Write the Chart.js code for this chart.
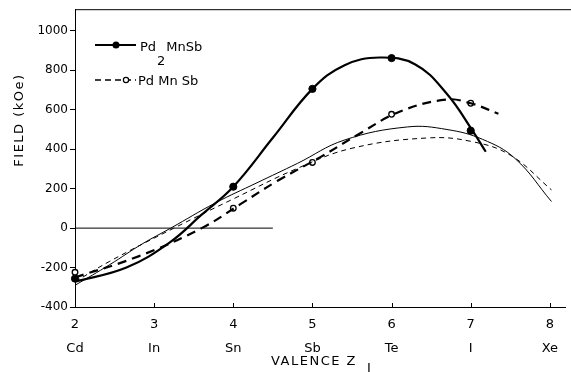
<!DOCTYPE html>
<html>
<head>
<meta charset="utf-8">
<script src="https://cdn.jsdelivr.net/npm/chart.js@4"></script>
<style>
  html, body { margin: 0; padding: 0; background: #fff; }
  #wrap { width: 571px; height: 372px; }
</style>
</head>
<body>
<div id="wrap"><canvas id="field_chart"></canvas></div>
<script>
// axis ticks
var valenceTicks = [2, 3, 4, 5, 6, 7, 8];
var elementLabels = ["Cd", "In", "Sn", "Sb", "Te", "I", "Xe"];
var fieldTicks = [-400, -200, 0, 200, 400, 600, 800, 1000];

// measured points
var pd2Valence = [2, 4, 5, 6, 7];
var pd2Field = [-256, 210, 706, 862, 494];
var pdValence = [2, 4, 5, 6, 7];
var pdField = [-224, 101, 333, 577, 633];

// drawn curves through the measured points
var pd2CurveX = [2, 2.65, 3.19, 3.6, 4, 4.5, 5, 5.4, 5.85, 6.3, 6.7, 7.02, 7.19];
var pd2CurveY = [-272, -200, -75, 68, 210, 458, 706, 825, 865, 830, 680, 496, 387];
var pdCurveX = [2, 2.81, 3.6, 4.1, 4.56, 5.1, 5.6, 6.1, 6.69, 7, 7.35];
var pdCurveY = [-250, -142, 0, 124, 240, 360, 480, 590, 652, 633, 580];

// calculated curves (thin lines)
var calcSolidX = [2, 2.44, 2.85, 3.21, 3.77, 4.3, 4.81, 5.4, 6.2, 6.7, 7.15, 7.56, 8.02];
var calcSolidY = [-290, -185, -80, 0, 127, 230, 328, 446, 513, 500, 450, 353, 135];
var calcDashX = [2, 2.44, 3.25, 4, 4.81, 5.5, 6.45, 7.0, 7.5, 8.02];
var calcDashY = [-272, -168, 0, 148, 303, 405, 457, 440, 370, 194];

var zeroLineX = [2, 4.5];

function pts(xs, ys) {
  return xs.map(function (x, i) { return { x: x, y: ys[i] }; });
}

Chart.defaults.font.family = "'DejaVu Sans', sans-serif";
Chart.defaults.color = "#000";

var extras = {
  id: "extras",
  afterDraw: function (chart) {
    var ctx = chart.ctx, a = chart.chartArea, xs = chart.scales.x;
    ctx.save();
    ctx.strokeStyle = "#000";
    ctx.fillStyle = "#000";
    ctx.lineWidth = 1;
    // top frame line
    ctx.beginPath();
    ctx.moveTo(a.left, a.top + 0.5);
    ctx.lineTo(chart.width, a.top + 0.5);
    ctx.stroke();
    // inward ticks on the valence axis
    valenceTicks.forEach(function (v) {
      var px = Math.round(xs.getPixelForValue(v)) + 0.5;
      ctx.beginPath();
      ctx.moveTo(px, a.bottom);
      ctx.lineTo(px, a.bottom - 4);
      ctx.stroke();
    });

    // legend
    ctx.lineWidth = 2;
    ctx.beginPath(); ctx.moveTo(95, 45); ctx.lineTo(136, 45); ctx.stroke();
    ctx.beginPath(); ctx.arc(116, 45, 3.5, 0, Math.PI * 2); ctx.fill();
    ctx.lineWidth = 1.6;
    ctx.setLineDash([6, 4]);
    ctx.beginPath(); ctx.moveTo(95, 80); ctx.lineTo(136, 80); ctx.stroke();
    ctx.setLineDash([]);
    ctx.lineWidth = 1.2;
    ctx.beginPath(); ctx.arc(126, 80, 2.6, 0, Math.PI * 2);
    ctx.fillStyle = "#fff"; ctx.fill(); ctx.stroke();
    ctx.fillStyle = "#000";

    ctx.font = "13px 'DejaVu Sans'";
    ctx.textBaseline = "alphabetic";
    ctx.textAlign = "left";
    ctx.fillText("Pd", 140, 51);
    var w = ctx.measureText("Pd").width;
    ctx.fillText("2", 140 + w + 1, 65);
    ctx.fillText("MnSb", 140 + w + 1 + ctx.measureText("2").width + 1, 51);
    ctx.fillText("Pd Mn Sb", 138, 85);

    // x axis title with subscript
    ctx.letterSpacing = "1.5px";
    ctx.fillText("VALENCE Z", 271, 365);
    ctx.fillText("I", 367, 372);

    // y axis title
    ctx.translate(23, 120);
    ctx.rotate(-Math.PI / 2);
    ctx.textAlign = "center";
    ctx.fillText("FIELD (kOe)", 0, 0);
    ctx.restore();
  }
};

new Chart("field_chart", {
  type: "line",
  data: {
    datasets: [
      {
        label: "calc solid",
        data: pts(calcSolidX, calcSolidY),
        borderColor: "#000",
        borderWidth: 1,
        pointRadius: 0,
        tension: 0.4,
      },
      {
        label: "calc dashed",
        data: pts(calcDashX, calcDashY),
        borderColor: "#000",
        borderWidth: 1,
        borderDash: [5, 4],
        pointRadius: 0,
        tension: 0.4,
      },
      {
        label: "Pd2MnSb curve",
        data: pts(pd2CurveX, pd2CurveY),
        borderColor: "#000",
        borderWidth: 2.2,
        pointRadius: 0,
        tension: 0.4,
      },
      {
        label: "PdMnSb curve",
        data: pts(pdCurveX, pdCurveY),
        borderColor: "#000",
        borderWidth: 2.2,
        borderDash: [9, 6],
        pointRadius: 0,
        tension: 0.4,
      },
      {
        label: "zero",
        data: pts(zeroLineX, [0, 0]),
        borderColor: "#000",
        borderWidth: 1,
        pointRadius: 0,
      },
      {
        label: "Pd2MnSb",
        data: pts(pd2Valence, pd2Field),
        showLine: false,
        pointRadius: 3.6,
        pointBackgroundColor: "#000",
        pointBorderColor: "#000",
        clip: false,
      },
      {
        label: "PdMnSb",
        data: pts(pdValence, pdField),
        showLine: false,
        pointRadius: 2.8,
        pointBorderWidth: 1.3,
        pointBackgroundColor: "#fff",
        pointBorderColor: "#000",
        clip: false,
      },
    ],
  },
  options: {
    animation: false,
    responsive: true,
    maintainAspectRatio: false,
    layout: { padding: { top: 7, right: 0, left: 0, bottom: 0 } },
    plugins: { legend: { display: false }, tooltip: { enabled: false } },
    scales: {
      x: {
        type: "linear",
        min: 2,
        max: 8.2,
        afterFit: function (s) { s.height = 65; },
        afterBuildTicks: function (s) {
          s.ticks = valenceTicks.map(function (v) { return { value: v }; });
        },
        ticks: {
          padding: 6,
          maxRotation: 0,
          font: { size: 13, lineHeight: 1.85 },
          color: "#000",
          callback: function (v, i) { return [String(v), elementLabels[i]]; },
        },
        grid: { drawOnChartArea: false, drawTicks: false },
        border: { color: "#000", width: 1 },
      },
      y: {
        type: "linear",
        min: -400,
        max: 1110,
        afterFit: function (s) { s.width = 75; },
        afterBuildTicks: function (s) {
          s.ticks = fieldTicks.map(function (v) { return { value: v }; });
        },
        ticks: {
          padding: 2,
          font: { size: 12 },
          color: "#000",
          callback: function (v) { return String(v); },
        },
        grid: { drawOnChartArea: false, drawTicks: true, tickLength: 5, color: "#000" },
        border: { color: "#000", width: 1 },
      },
    },
  },
  plugins: [extras],
});
</script>
</body>
</html>
